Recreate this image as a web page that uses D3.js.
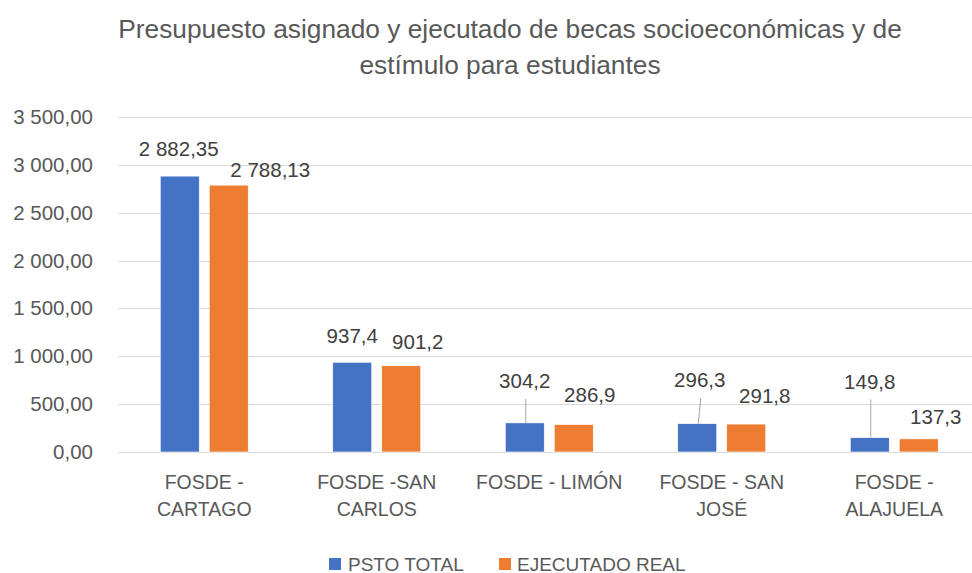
<!DOCTYPE html>
<html>
<head>
<meta charset="utf-8">
<script src="https://cdn.jsdelivr.net/npm/d3@7"></script>
<style>
  html, body { margin: 0; padding: 0; background: #ffffff; }
  svg { display: block; font-family: "Liberation Sans", Arial, sans-serif; }
</style>
</head>
<body>
<svg id="chart" width="972" height="573"></svg>
<script>
// ---- Data ----
const categories = [
  ["FOSDE -", "CARTAGO"],
  ["FOSDE -SAN", "CARLOS"],
  ["FOSDE - LIMÓN"],
  ["FOSDE - SAN", "JOSÉ"],
  ["FOSDE -", "ALAJUELA"]
];
const seriesNames = ["PSTO TOTAL", "EJECUTADO REAL"];
const pstoTotal = [2882.35, 937.4, 304.2, 296.3, 149.8];
const ejecutadoReal = [2788.13, 901.2, 286.9, 291.8, 137.3];
const labelDecimals = [2, 1, 1, 1, 1];
const yTicks = [0, 500, 1000, 1500, 2000, 2500, 3000, 3500];

// ---- Layout / style (not data) ----
const W = 972, H = 573;
const colors = ["#4472C4", "#ED7D31"];
// manual label offsets (dx, dy from bar-top centre), as placed in the original chart
const labelOffsets = [
  [[-1, -27], [41.5, -16]],
  [[0, -27], [16.5, -24]],
  [[0, -42], [16, -29.5]],
  [[2.5, -43.6], [18.5, -28]],
  [[0, -56], [17, -22.5]]
];
const leaderLines = [[false,false],[false,false],[true,false],[true,false],[true,false]];

const locale = d3.formatLocale({decimal: ",", thousands: "\u00a0", grouping: [3], currency: ["", ""]});
const tickFmt = locale.format(",.2f");

const svg = d3.select("#chart");

const plotLeft = 118, plotRight = 980.5, plotTop = 117, plotBottom = 452;

const x0 = d3.scaleBand()
  .domain(d3.range(categories.length))
  .range([plotLeft, plotRight])
  .paddingInner(0).paddingOuter(0);
const y = d3.scaleLinear().domain([0, 3500]).range([plotBottom, plotTop]);

const bw = x0.bandwidth();
const barW = bw * 0.226;
const barGap = bw * 0.058;

// Title
const title = svg.append("text")
  .attr("x", 510).attr("text-anchor", "middle")
  .attr("fill", "#595959").attr("font-size", 26.3);
title.append("tspan").attr("x", 510).attr("y", 38)
  .text("Presupuesto asignado y ejecutado de becas socioeconómicas y de");
title.append("tspan").attr("x", 510).attr("y", 74)
  .text("estímulo para estudiantes");

// Gridlines
svg.append("g").selectAll("line")
  .data(yTicks)
  .join("line")
  .attr("x1", plotLeft).attr("x2", W)
  .attr("y1", d => Math.round(y(d)) + 0.5).attr("y2", d => Math.round(y(d)) + 0.5)
  .attr("stroke", "#d9d9d9").attr("stroke-width", 1.2);

// Y axis (labels only)
const yAxis = d3.axisLeft(y).tickValues(yTicks).tickFormat(tickFmt).tickSize(0).tickPadding(0);
const yg = svg.append("g").attr("transform", `translate(93,0)`).call(yAxis);
yg.select(".domain").remove();
yg.selectAll("text").attr("fill", "#595959").attr("font-size", 20.5)
  .attr("font-family", "Liberation Sans, Arial, sans-serif");

// Bars
const seriesData = [pstoTotal, ejecutadoReal];
const groups = svg.append("g").selectAll("g")
  .data(categories.map((c, i) => i))
  .join("g");

seriesData.forEach((vals, s) => {
  groups.append("rect")
    .attr("x", i => x0(i) + bw / 2 - barGap / 2 - barW + s * (barW + barGap))
    .attr("y", i => y(vals[i]))
    .attr("width", barW)
    .attr("height", i => y(0) - y(vals[i]))
    .attr("fill", colors[s])
    .attr("stroke", "#ffffff").attr("stroke-width", 0.6);
});

// Data labels with leader lines
seriesData.forEach((vals, s) => {
  const fmt = i => locale.format(",." + labelDecimals[i] + "f")(vals[i]);
  const cx = i => x0(i) + bw / 2 - barGap / 2 - barW / 2 + s * (barW + barGap);
  groups.each(function(i) {
    const g = d3.select(this);
    const [dx, dy] = labelOffsets[i][s];
    const lx = cx(i) + dx, ly = y(vals[i]) + dy;
    if (leaderLines[i][s]) {
      g.append("line")
        .attr("x1", lx + 1).attr("y1", ly + 18)
        .attr("x2", cx(i) + 1).attr("y2", y(vals[i]))
        .attr("stroke", "#a6a6a6").attr("stroke-width", 1);
    }
    g.append("text")
      .attr("x", lx).attr("y", ly).attr("dy", "0.36em")
      .attr("text-anchor", "middle")
      .attr("fill", "#404040").attr("font-size", 20.5)
      .text(fmt(i));
  });
});

// Category labels
groups.append("text")
  .attr("text-anchor", "middle")
  .attr("fill", "#595959").attr("font-size", 19.5)
  .each(function(i) {
    const t = d3.select(this);
    categories[i].forEach((line, k) => {
      t.append("tspan")
        .attr("x", x0(i) + bw / 2)
        .attr("y", 489 + k * 27)
        .text(line);
    });
  });

// Legend
const legend = svg.append("g");
const legendItems = [{x: 329, tx: 348}, {x: 499, tx: 517}];
seriesNames.forEach((name, s) => {
  legend.append("rect")
    .attr("x", legendItems[s].x).attr("y", 558)
    .attr("width", 12).attr("height", 12)
    .attr("fill", colors[s]);
  legend.append("text")
    .attr("x", legendItems[s].tx).attr("y", 570.5)
    .attr("fill", "#595959").attr("font-size", 19)
    .text(name);
});
</script>
</body>
</html>
